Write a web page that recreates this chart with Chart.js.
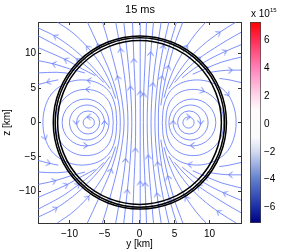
<!DOCTYPE html>
<html>
<head>
<meta charset="utf-8">
<script src="https://cdn.jsdelivr.net/npm/chart.js@4.4.1/dist/chart.umd.min.js"></script>
<style>
  body { margin: 0; background: #fff; }
  #wrap { position: relative; width: 294px; height: 252px; overflow: hidden; font-family: "Liberation Sans", Arial, sans-serif; color: #000; }
  #main { position: absolute; left: 0; top: 0; }
  #cbar { position: absolute; left: 240px; top: 0; }
  #title { position: absolute; left: 90px; top: 3px; width: 100px; text-align: center; font-size: 11px; line-height: 12px; }
  #expo { position: absolute; left: 251px; top: 9px; font-size: 10px; line-height: 10px; white-space: nowrap; }
  #expo span { position: relative; top: -5px; font-size: 6px; }
</style>
</head>
<body>
<div id="wrap">
  <canvas id="main" width="294" height="252"></canvas>
  <canvas id="cbar" width="54" height="252"></canvas>
  <div id="title">15 ms</div>
  <div id="expo">x 10<span>15</span></div>
</div>
<script>
// axis ranges and tick labels (km, colour scale in units of 1e15)
const yRange = [-14.5, 14.5];
const zRange = [-14.6, 14.6];
const yTicks = [-10, -5, 0, 5, 10];
const zTicks = [-10, -5, 0, 5, 10];
const cbRange = [-7.1, 7.3];
const cbTicks = [-6, -4, -2, 0, 2, 4, 6];

// black rings: [y, z, radius]
const rings = [[0.05, 0, 12.37], [0.05, 0, 12.1], [0.0, 0, 11.7]];

// small closed field loops round the two O-points: [y, z, radius]
const loopsRight = [[7.0, 0, 0.8], [7.1, 0, 1.65], [7.3, 0, 2.5], [7.55, 0, 3.35]];
const loopsLeft = [[-7.25, 0, 0.8], [-7.35, 0, 1.65], [-7.5, 0, 2.5], [-7.7, 0, 3.35]];
// arrow heads sitting on those loops: [y, z, direction in degrees]
const loopArrows = [
  [7.0, 0.8, 0], [4.8, 0, 90], [8.75, 0, -90], [7.55, -3.35, 180],
  [-7.25, 0.8, 180], [-5.0, 0, 90], [-9.05, 0, -90], [-7.7, -3.35, 0]
];

// streamlines, points [y, z] in flow order; a third value 1 puts an arrow there
const centerLines = [
  [[0.1, -14.6], [0.1, -8.8, 1], [0.1, 0], [0.1, 4.3, 1], [0.1, 14.6]],
  [[1.0, -14.6], [0.8, -9, 1], [0.6, -4], [0.55, 0], [0.6, 4, 1], [0.8, 9], [1.0, 14.6]],
  [[2.0, -14.6], [1.6, -10], [1.25, -5, 1], [1.1, 0], [1.25, 5], [1.6, 10, 1], [2.0, 14.6]],
  [[3.1, -14.6], [2.5, -10.5, 1], [1.9, -5.5], [1.65, 0], [1.9, 5.5, 1], [2.5, 10.5], [3.1, 14.6]],
  [[4.2, -14.6], [3.4, -11], [2.6, -6, 1], [2.2, 0], [2.6, 6], [3.4, 11, 1], [4.2, 14.6]],
  [[5.3, -14.6], [4.3, -11.2, 1], [3.2, -6.5], [2.75, -2.5], [2.7, 0], [2.75, 2.5], [3.2, 6.5, 1], [4.3, 11.2], [5.3, 14.6]],
  [[-1.0, -14.6], [-0.8, -9], [-0.6, -4, 1], [-0.55, 0], [-0.6, 4], [-0.8, 9, 1], [-1.0, 14.6]],
  [[-2.25, -14.6], [-1.75, -10, 1], [-1.3, -5], [-1.1, 0], [-1.3, 5, 1], [-1.75, 10], [-2.25, 14.6]],
  [[-3.4, -14.6], [-2.7, -10.5], [-2.0, -5.5, 1], [-1.65, 0], [-2.0, 5.5], [-2.7, 10.5, 1], [-3.4, 14.6]],
  [[-5.3, -14.6], [-4.3, -11.2, 1], [-3.1, -6.5], [-2.4, -2.5], [-2.2, 0], [-2.4, 2.5], [-3.1, 6.5, 1], [-4.3, 11.2], [-5.3, 14.6]],
  [[-7.45, -14.6], [-5.9, -11.2], [-4.1, -7, 1], [-3.0, -3], [-2.75, 0], [-3.0, 3], [-4.1, 7], [-5.9, 11.2, 1], [-7.45, 14.6]]
];

const fanRight = [
  [[3.05, 2.5], [3.45, 5], [4.1, 8, 1], [4.9, 11], [5.6, 13], [6.2, 14.6]],
  [[3.5, 3.6], [4.2, 6], [5.3, 8.6], [6.7, 11, 1], [8.1, 13], [9.5, 14.6]],
  [[4.2, 4.9], [5.4, 7.0], [7.0, 9.2], [9.0, 11.2], [11.3, 13.0, 1], [13.8, 14.6]],
  [[5.0, 5.8], [6.6, 7.6], [8.5, 9.3, 1], [10.7, 10.8], [12.6, 12.0], [14.5, 13.1]],
  [[6.1, 6.5], [7.9, 7.9], [10.0, 9.2], [12.2, 10.3, 1], [14.5, 11.3]],
  [[7.6, 7.0], [9.6, 7.9, 1], [11.8, 8.8], [14.5, 9.5]],
  [[9.6, 7.2], [11.5, 7.5], [13.0, 7.6, 1], [14.5, 7.6]],
  [[11.4, 6.4], [12.8, 6.2], [14.5, 5.8]],
  [[6.2, -14.6], [5.6, -13], [4.9, -11], [4.1, -8, 1], [3.45, -5], [3.05, -2.5]],
  [[9.5, -14.6], [8.1, -13], [6.7, -11, 1], [5.3, -8.6], [4.2, -6], [3.5, -3.6]],
  [[13.8, -14.6], [11.3, -13.0, 1], [9.0, -11.2], [7.0, -9.2], [5.4, -7.0], [4.2, -4.9]],
  [[14.5, -13.1], [12.6, -12.0], [10.7, -10.8], [8.5, -9.3, 1], [6.6, -7.6], [5.0, -5.8]],
  [[14.5, -11.3], [12.2, -10.3, 1], [10.0, -9.2], [7.9, -7.9], [6.1, -6.5]],
  [[14.5, -9.5], [11.8, -8.8], [9.6, -7.9, 1], [7.6, -7.0]],
  [[14.5, -7.6], [13.0, -7.6, 1], [11.5, -7.5], [9.6, -7.2]],
  [[14.5, -5.8], [12.8, -6.2], [11.4, -6.4]]
];

const fanLeft = [
  [[-3.4, 3.5], [-4.3, 6], [-5.6, 8.5], [-7.4, 10.9, 1], [-9.5, 13], [-11.75, 14.6]],
  [[-4.2, 4.9], [-5.6, 6.8], [-7.4, 8.8], [-9.6, 10.8], [-12.0, 12.5, 1], [-14.5, 13.75]],
  [[-5.1, 5.8], [-6.8, 7.5], [-8.8, 9.1, 1], [-11.2, 10.8], [-14.5, 12.6]],
  [[-6.3, 6.8], [-8.2, 7.8], [-10.5, 9.1, 1], [-14.5, 10.9]],
  [[-7.8, 7.2], [-10.0, 7.8], [-12.2, 8.5, 1], [-14.5, 9.0]],
  [[-9.8, 7.1], [-11.8, 7.3], [-14.5, 7.2]],
  [[-11.6, 6.2], [-13.0, 5.9, 1], [-14.5, 5.5]],
  [[-11.75, -14.6], [-9.5, -13], [-7.4, -10.9, 1], [-5.6, -8.5], [-4.3, -6], [-3.4, -3.5]],
  [[-14.5, -13.75], [-12.0, -12.5, 1], [-9.6, -10.8], [-7.4, -8.8], [-5.6, -6.8], [-4.2, -4.9]],
  [[-14.5, -12.6], [-11.2, -10.8], [-8.8, -9.1, 1], [-6.8, -7.5], [-5.1, -5.8]],
  [[-14.5, -10.9], [-10.5, -9.1, 1], [-8.2, -7.8], [-6.3, -6.8]],
  [[-14.5, -9.0], [-12.2, -8.5, 1], [-10.0, -7.8], [-7.8, -7.2]],
  [[-14.5, -7.2], [-11.8, -7.3], [-9.8, -7.1]],
  [[-14.5, -5.5], [-13.0, -5.9, 1], [-11.6, -6.2]]
];

// the two large loops on each side
const bigLoops = [
  [[3.75, 0], [3.95, 1.9], [4.6, 3.4], [5.8, 4.4], [7.4, 4.8], [9.0, 4.6, 1], [10.4, 3.8], [11.4, 2.6], [11.9, 1.3], [12.0, 0],
   [11.9, -1.3], [11.4, -2.6], [10.4, -3.8], [9.0, -4.6], [7.4, -4.8], [5.8, -4.4], [4.6, -3.4], [3.95, -1.9], [3.75, 0]],
  [[3.25, 0], [3.45, 2.3], [4.2, 4.3], [5.5, 5.5], [7.2, 6.1], [9.2, 6.1], [11.1, 5.4], [12.6, 4.1, 1], [13.5, 2.2], [13.8, 0],
   [13.5, -2.2], [12.6, -4.1], [11.1, -5.4], [9.2, -6.1], [7.2, -6.1, 1], [5.5, -5.5], [4.2, -4.3], [3.45, -2.3], [3.25, 0]],
  [[-3.75, 0], [-3.95, 1.9], [-4.6, 3.4], [-5.8, 4.4], [-7.4, 4.8, 1], [-9.0, 4.6], [-10.4, 3.8], [-11.4, 2.6], [-11.9, 1.3], [-12.0, 0],
   [-11.9, -1.3], [-11.4, -2.6], [-10.4, -3.8], [-9.0, -4.6], [-7.4, -4.8], [-5.8, -4.4], [-4.6, -3.4], [-3.95, -1.9], [-3.75, 0]],
  [[-3.25, 0], [-3.45, 2.3], [-4.2, 4.3], [-5.5, 5.5], [-7.2, 6.1, 1], [-9.2, 6.1], [-11.1, 5.4], [-12.6, 4.1], [-13.5, 2.2], [-13.8, 0],
   [-13.5, -2.2, 1], [-12.6, -4.1], [-11.1, -5.4], [-9.2, -6.1], [-7.2, -6.1], [-5.5, -5.5], [-4.2, -4.3], [-3.45, -2.3], [-3.25, 0]]
];

const lineColor = "rgb(92,116,250)";
const font = { family: "'Liberation Sans', Arial, sans-serif", size: 10 };
const minus = (v) => (v < 0 ? "\u2212" + Math.abs(v) : String(v));

function makeArrow(color) {
  const c = document.createElement("canvas");
  c.width = 9;
  c.height = 9;
  const g = c.getContext("2d");
  g.strokeStyle = color;
  g.lineWidth = 1;
  g.beginPath();
  g.moveTo(2.5, 1.5);
  g.lineTo(6.3, 4.5);
  g.lineTo(2.5, 7.5);
  g.stroke();
  return c;
}

function kmToPx(chart, r) {
  const s = chart.scales.x;
  if (!s) return 0;
  return Math.abs(s.getPixelForValue(r) - s.getPixelForValue(0));
}

const allLines = [...centerLines, ...fanRight, ...fanLeft, ...bigLoops];

// arrow heads: position plus the neighbours that give the direction
const arrowData = [];
allLines.forEach((pts) => {
  pts.forEach((p, i) => {
    if (p[2] !== 1) return;
    const a = pts[Math.max(i - 1, 0)];
    const b = pts[Math.min(i + 1, pts.length - 1)];
    arrowData.push({ x: p[0], y: p[1], fx: a[0], fy: a[1], tx: b[0], ty: b[1] });
  });
});
loopArrows.forEach(([y, z, deg]) => {
  const dx = Math.cos((deg * Math.PI) / 180) * 0.2;
  const dz = Math.sin((deg * Math.PI) / 180) * 0.2;
  arrowData.push({ x: y, y: z, fx: y - dx, fy: z - dz, tx: y + dx, ty: z + dz });
});

const circleSet = (list, color, width, order) => ({
  data: list.map(([y, z, r]) => ({ x: y, y: z, rk: r })),
  showLine: false,
  pointStyle: "circle",
  pointRadius: (c) => kmToPx(c.chart, c.raw.rk),
  pointBackgroundColor: "rgba(0,0,0,0)",
  pointBorderColor: color,
  pointBorderWidth: width,
  order
});

const datasets = [
  circleSet(rings, "#000", 1.5, 0),
  circleSet([...loopsRight, ...loopsLeft], lineColor, 0.8, 2)
];

allLines.forEach((pts) => {
  datasets.push({
    data: pts.map((p) => ({ x: p[0], y: p[1] })),
    showLine: true,
    borderColor: lineColor,
    borderWidth: 0.8,
    pointRadius: 0,
    tension: 0.35,
    order: 2
  });
});

datasets.push({
  data: arrowData,
  showLine: false,
  pointStyle: makeArrow(lineColor),
  pointRadius: 4,
  rotation: (c) => {
    const sx = c.chart.scales.x;
    const sy = c.chart.scales.y;
    const a = c.raw;
    if (!sx || !sy) return 0;
    const dx = sx.getPixelForValue(a.tx) - sx.getPixelForValue(a.fx);
    const dy = sy.getPixelForValue(a.ty) - sy.getPixelForValue(a.fy);
    return (Math.atan2(dy, dx) * 180) / Math.PI;
  },
  order: 1
});

const boxAxis = (pos, range, ticks, fit) => ({
  type: "linear",
  position: pos,
  min: range[0],
  max: range[1],
  afterBuildTicks: (s) => { s.ticks = ticks.map((v) => ({ value: v })); },
  ticks: { display: false },
  grid: { drawOnChartArea: false, tickLength: -3, color: "#333" },
  border: { color: "#333", width: 1 },
  afterFit: fit
});

new Chart(document.getElementById("main"), {
  type: "scatter",
  data: { datasets },
  options: {
    responsive: false,
    animation: false,
    devicePixelRatio: 1,
    events: [],
    layout: { padding: { left: 0, right: 53, top: 22, bottom: 0 } },
    plugins: { legend: { display: false }, tooltip: { enabled: false } },
    scales: {
      x: {
        type: "linear",
        position: "bottom",
        min: yRange[0],
        max: yRange[1],
        afterBuildTicks: (s) => { s.ticks = yTicks.map((v) => ({ value: v })); },
        ticks: { font, color: "#000", padding: 8, maxRotation: 0, callback: minus },
        grid: { drawOnChartArea: false, tickLength: -3, color: "#333" },
        border: { color: "#333", width: 1 },
        title: { display: true, text: "y [km]", font, color: "#000", padding: { top: 0, bottom: 2 } },
        afterFit: (s) => { s.height = 29; }
      },
      y: {
        type: "linear",
        position: "left",
        min: zRange[0],
        max: zRange[1],
        afterBuildTicks: (s) => { s.ticks = zTicks.map((v) => ({ value: v })); },
        ticks: { font, color: "#000", padding: 5, callback: minus },
        grid: { drawOnChartArea: false, tickLength: -3, color: "#333" },
        border: { color: "#333", width: 1 },
        title: { display: true, text: "z [km]", font, color: "#000", padding: { top: 1, bottom: 0 } },
        afterFit: (s) => { s.width = 38; }
      },
      x2: boxAxis("top", yRange, yTicks, (s) => { s.height = 0; }),
      y2: boxAxis("right", zRange, zTicks, (s) => { s.width = 0; })
    }
  }
});

// colour bar: one floating bar filled with the blue-white-red map
const cbStops = [
  [-7.1, "rgb(0,0,130)"], [-6, "rgb(25,45,165)"], [-4, "rgb(95,125,205)"], [-2, "rgb(210,218,240)"],
  [-1, "rgb(250,250,253)"], [1, "rgb(255,250,252)"], [2, "rgb(255,215,235)"], [4, "rgb(255,130,185)"],
  [6, "rgb(255,45,85)"], [7.3, "rgb(255,0,0)"]
];

new Chart(document.getElementById("cbar"), {
  type: "bar",
  data: {
    labels: [""],
    datasets: [{
      data: [cbRange],
      backgroundColor: (c) => {
        const area = c.chart.chartArea;
        if (!area) return "#fff";
        const g = c.chart.ctx.createLinearGradient(0, area.bottom, 0, area.top);
        cbStops.forEach(([v, col]) => g.addColorStop((v - cbRange[0]) / (cbRange[1] - cbRange[0]), col));
        return g;
      },
      borderColor: "#444",
      borderWidth: 1,
      borderSkipped: false,
      barPercentage: 1,
      categoryPercentage: 1
    }]
  },
  options: {
    responsive: false,
    animation: false,
    devicePixelRatio: 1,
    events: [],
    layout: { padding: { left: 10, right: 0, top: 22, bottom: 29 } },
    plugins: { legend: { display: false }, tooltip: { enabled: false } },
    scales: {
      x: { display: false },
      y: {
        position: "right",
        min: cbRange[0],
        max: cbRange[1],
        afterBuildTicks: (s) => { s.ticks = cbTicks.map((v) => ({ value: v })); },
        ticks: { font, color: "#000", padding: 5, callback: minus },
        grid: { drawOnChartArea: false, tickLength: -2, color: "#333" },
        border: { display: false },
        afterFit: (s) => { s.width = 33; }
      }
    }
  }
});
</script>
</body>
</html>
